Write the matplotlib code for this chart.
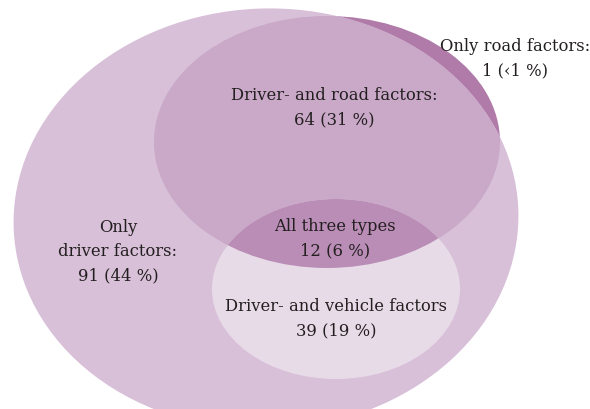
import matplotlib
matplotlib.use('Agg')
import matplotlib.pyplot as plt
from matplotlib.patches import Ellipse

# 数据
groups = ['Only road factors:', 'Driver- and road factors:', 'Only\ndriver factors:',
          'All three types', 'Driver- and vehicle factors']
counts = [1, 64, 91, 12, 39]
shares = ['\u20391', '31', '44', '6', '19']

# 颜色
c_driver = '#d8c0d8'
c_road_out = '#b07ba9'
c_road_in = '#c9a8c8'
c_vehicle = '#e8dbe8'
c_all = '#ba8db6'

fig = plt.figure(figsize=(5.9, 4.09), dpi=100)
ax = fig.add_axes([0, 0, 1, 1])
ax.set_xlim(0, 590)
ax.set_ylim(409, 0)
ax.axis('off')

# 椭圆 (中心x, 中心y, 宽, 高, 角度)
driver = (266, 219, 505, 421, -2.4)
road = (327, 142, 346, 252, 0)
vehicle = (336, 289, 248, 180, 0)


def make(geo, **kw):
    return Ellipse((geo[0], geo[1]), geo[2], geo[3], angle=geo[4], **kw)


def ell(geo, color, z, clip=None):
    e = make(geo, facecolor=color, edgecolor='none', zorder=z)
    ax.add_patch(e)
    if clip is not None:
        e.set_clip_path(make(clip, transform=ax.transData))
    return e


ell(road, c_road_out, 1)
ell(driver, c_driver, 2)
ell(road, c_road_in, 3, clip=driver)
ell(vehicle, c_vehicle, 4, clip=driver)
ell(road, c_all, 5, clip=vehicle)

font = dict(family='DejaVu Serif', fontsize=11.8, color='#231f20', ha='center', va='center',
            zorder=10, linespacing=1.55)

pos = [(515, 59), (334, 108), (118, 252), (335, 239), (336, 319)]
for (x, y), g, n, s in zip(pos, groups, counts, shares):
    ax.text(x, y, '{}\n{} ({} %)'.format(g, n, s), **font)

fig.savefig('out.png', dpi=100)
